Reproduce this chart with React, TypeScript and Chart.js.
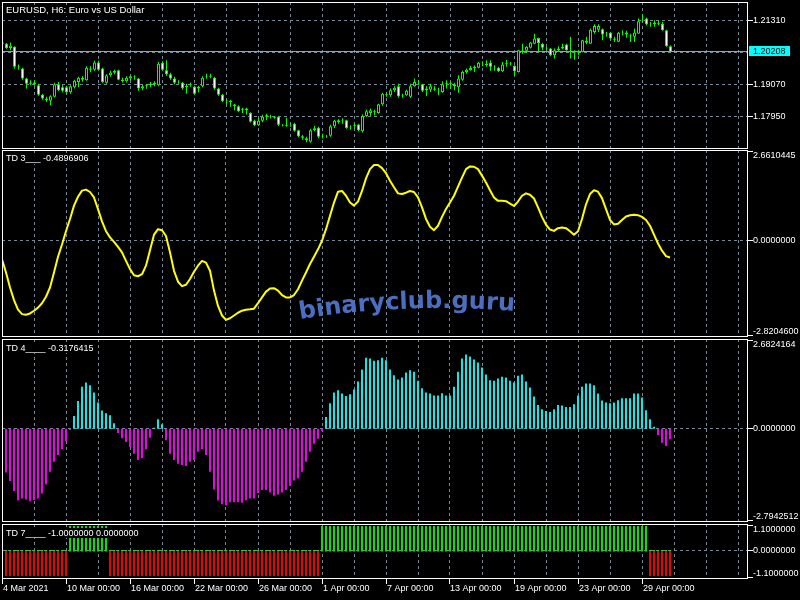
import React, { useEffect, useRef } from "react";
import { Chart, registerables } from "chart.js";
Chart.register(...registerables);

// ---------- DATA ----------
const OPEN = [1.2054,1.2050,1.2035,1.2039,1.1969,1.1963,1.1928,1.1910,1.1914,1.1904,
1.1871,1.1858,1.1850,1.1864,1.1908,1.1897,1.1897,1.1880,1.1897,1.1916,
1.1924,1.1922,1.1963,1.1959,1.1984,1.1963,1.1913,1.1939,1.1948,1.1957,
1.1924,1.1918,1.1928,1.1934,1.1928,1.1893,1.1901,1.1904,1.1908,1.1904,
1.1983,1.1957,1.1943,1.1928,1.1916,1.1913,1.1897,1.1904,1.1899,1.1893,
1.1901,1.1934,1.1934,1.1931,1.1893,1.1871,1.1850,1.1850,1.1837,1.1831,
1.1823,1.1823,1.1807,1.1780,1.1764,1.1780,1.1794,1.1794,1.1794,1.1794,
1.1763,1.1764,1.1762,1.1770,1.1747,1.1726,1.1719,1.1707,1.1747,1.1756,
1.1726,1.1726,1.1728,1.1761,1.1776,1.1780,1.1782,1.1759,1.1761,1.1767,
1.1743,1.1797,1.1807,1.1813,1.1807,1.1838,1.1873,1.1869,1.1887,1.1901,
1.1869,1.1869,1.1864,1.1901,1.1913,1.1908,1.1887,1.1889,1.1893,1.1889,
1.1881,1.1910,1.1910,1.1908,1.1897,1.1924,1.1951,1.1957,1.1965,1.1966,
1.1977,1.1974,1.1983,1.1971,1.1966,1.1953,1.1980,1.1980,1.1973,1.1951,
1.2025,1.2025,1.2036,1.2050,1.2070,1.2050,1.2036,1.2033,1.2009,1.2027,
1.2033,1.2047,1.2021,1.2019,1.2018,1.2021,1.2053,1.2050,1.2091,1.2099,
1.2100,1.2085,1.2088,1.2068,1.2057,1.2089,1.2089,1.2079,1.2074,1.2085,
1.2130,1.2138,1.2117,1.2118,1.2120,1.2120,1.2097,1.2041];

const HIGH = [1.2064,1.2052,1.2054,1.2041,1.1977,1.1966,1.1931,1.1922,1.1922,1.1910,
1.1875,1.1864,1.1869,1.1913,1.1916,1.1904,1.1903,1.1904,1.1924,1.1934,
1.1936,1.1971,1.1971,1.1990,1.1990,1.1966,1.1943,1.1955,1.1959,1.1959,
1.1931,1.1936,1.1939,1.1939,1.1930,1.1906,1.1908,1.1916,1.1918,1.1986,
1.1988,1.1992,1.1948,1.1934,1.1922,1.1916,1.1910,1.1914,1.1903,1.1903,
1.1936,1.1945,1.1945,1.1934,1.1896,1.1874,1.1855,1.1854,1.1840,1.1834,
1.1826,1.1826,1.1810,1.1784,1.1789,1.1801,1.1805,1.1801,1.1797,1.1796,
1.1768,1.1791,1.1770,1.1773,1.1749,1.1730,1.1724,1.1752,1.1762,1.1759,
1.1735,1.1730,1.1766,1.1784,1.1785,1.1789,1.1784,1.1764,1.1770,1.1770,
1.1802,1.1819,1.1823,1.1819,1.1840,1.1878,1.1878,1.1893,1.1901,1.1910,
1.1875,1.1889,1.1910,1.1928,1.1922,1.1910,1.1901,1.1910,1.1901,1.1896,
1.1918,1.1922,1.1916,1.1913,1.1939,1.1955,1.1963,1.1972,1.1974,1.1986,
1.1988,1.1992,1.1992,1.1974,1.1969,1.1986,1.1994,1.1986,1.1974,1.2029,
1.2050,1.2041,1.2056,1.2085,1.2071,1.2052,1.2039,1.2035,1.2033,1.2041,
1.2050,1.2050,1.2074,1.2027,1.2027,1.2064,1.2074,1.2103,1.2118,1.2118,
1.2103,1.2091,1.2091,1.2074,1.2091,1.2097,1.2095,1.2085,1.2103,1.2138,
1.2153,1.2141,1.2126,1.2132,1.2130,1.2126,1.2099,1.2044];

const LOW = [1.2048,1.2032,1.2027,1.1963,1.1959,1.1924,1.1893,1.1904,1.1903,1.1868,
1.1854,1.1846,1.1834,1.1862,1.1884,1.1880,1.1875,1.1875,1.1893,1.1897,
1.1917,1.1920,1.1950,1.1955,1.1955,1.1913,1.1910,1.1934,1.1943,1.1922,
1.1914,1.1914,1.1922,1.1924,1.1885,1.1887,1.1892,1.1897,1.1901,1.1901,
1.1955,1.1938,1.1924,1.1908,1.1910,1.1889,1.1875,1.1899,1.1871,1.1880,
1.1897,1.1927,1.1929,1.1889,1.1868,1.1845,1.1838,1.1829,1.1817,1.1810,
1.1807,1.1802,1.1774,1.1761,1.1762,1.1775,1.1782,1.1788,1.1787,1.1762,
1.1760,1.1759,1.1759,1.1742,1.1722,1.1714,1.1705,1.1703,1.1743,1.1719,
1.1718,1.1721,1.1724,1.1755,1.1770,1.1770,1.1752,1.1749,1.1753,1.1743,
1.1739,1.1794,1.1798,1.1799,1.1805,1.1833,1.1864,1.1864,1.1881,1.1861,
1.1861,1.1868,1.1860,1.1899,1.1904,1.1881,1.1866,1.1881,1.1885,1.1869,
1.1878,1.1893,1.1893,1.1887,1.1878,1.1920,1.1945,1.1955,1.1951,1.1964,
1.1971,1.1969,1.1955,1.1955,1.1951,1.1951,1.1969,1.1974,1.1939,1.1949,
1.2015,1.2018,1.2033,1.2048,1.2021,1.2027,1.2027,1.2006,1.1998,1.2021,
1.2030,1.2025,1.1998,1.1994,1.2009,1.2019,1.2048,1.2050,1.2085,1.2091,
1.2062,1.2074,1.2064,1.2056,1.2056,1.2079,1.2071,1.2056,1.2056,1.2085,
1.2126,1.2114,1.2109,1.2109,1.2114,1.2095,1.2039,1.2020];

const CLOSE = [1.2050,1.2035,1.2043,1.1969,1.1971,1.1928,1.1910,1.1914,1.1908,1.1871,
1.1858,1.1852,1.1866,1.1908,1.1887,1.1885,1.1880,1.1901,1.1920,1.1931,
1.1931,1.1966,1.1959,1.1984,1.1959,1.1916,1.1939,1.1949,1.1955,1.1924,
1.1918,1.1931,1.1936,1.1936,1.1893,1.1901,1.1904,1.1910,1.1913,1.1980,
1.1959,1.1943,1.1928,1.1913,1.1915,1.1895,1.1903,1.1908,1.1875,1.1899,
1.1931,1.1936,1.1938,1.1893,1.1871,1.1848,1.1852,1.1846,1.1831,1.1813,
1.1819,1.1817,1.1777,1.1764,1.1780,1.1794,1.1799,1.1796,1.1791,1.1766,
1.1762,1.1762,1.1761,1.1745,1.1726,1.1721,1.1712,1.1747,1.1754,1.1724,
1.1724,1.1727,1.1761,1.1780,1.1782,1.1782,1.1755,1.1757,1.1764,1.1747,
1.1797,1.1813,1.1817,1.1811,1.1838,1.1875,1.1869,1.1887,1.1896,1.1866,
1.1868,1.1885,1.1901,1.1916,1.1914,1.1885,1.1893,1.1901,1.1889,1.1888,
1.1908,1.1913,1.1913,1.1901,1.1928,1.1951,1.1959,1.1965,1.1969,1.1983,
1.1978,1.1980,1.1969,1.1969,1.1953,1.1977,1.1983,1.1981,1.1953,1.2027,
1.2027,1.2039,1.2054,1.2068,1.2052,1.2036,1.2034,1.2009,1.2027,1.2033,
1.2039,1.2027,1.2020,1.2021,1.2025,1.2062,1.2060,1.2099,1.2112,1.2112,
1.2082,1.2083,1.2068,1.2064,1.2088,1.2088,1.2082,1.2078,1.2089,1.2128,
1.2132,1.2118,1.2118,1.2124,1.2123,1.2097,1.2041,1.20208];

const TD3 = [-0.54,-0.93,-1.37,-1.74,-2.02,-2.15,-2.17,-2.13,-2.05,-1.96,
-1.83,-1.64,-1.37,-0.93,-0.47,-0.11,0.28,0.64,1.03,1.29,
1.47,1.50,1.43,1.27,0.93,0.57,0.28,0.10,-0.03,-0.18,
-0.34,-0.59,-0.83,-1.01,-1.04,-0.98,-0.73,-0.28,0.18,0.34,
0.31,0.14,-0.34,-0.88,-1.20,-1.33,-1.29,-1.12,-0.91,-0.73,
-0.59,-0.64,-0.88,-1.46,-1.91,-2.19,-2.32,-2.27,-2.19,-2.11,
-2.05,-2.02,-2.01,-1.99,-1.83,-1.66,-1.49,-1.40,-1.39,-1.46,
-1.59,-1.66,-1.66,-1.59,-1.42,-1.17,-0.93,-0.68,-0.47,-0.25,
0.00,0.34,0.73,1.12,1.44,1.46,1.32,1.12,1.03,1.15,
1.46,1.83,2.10,2.22,2.22,2.13,1.98,1.76,1.57,1.39,
1.37,1.41,1.46,1.43,1.27,0.98,0.64,0.41,0.31,0.44,
0.70,0.93,1.12,1.32,1.59,1.85,2.10,2.18,2.17,2.10,
1.91,1.71,1.48,1.27,1.17,1.17,1.16,1.09,1.02,1.15,
1.32,1.39,1.35,1.24,0.98,0.70,0.47,0.33,0.29,0.37,
0.39,0.37,0.28,0.18,0.28,0.64,1.07,1.37,1.48,1.44,
1.25,0.93,0.61,0.48,0.50,0.61,0.71,0.75,0.76,0.75,
0.70,0.61,0.44,0.18,-0.08,-0.29,-0.45,-0.4897];

const TD4 = [-1.05,
-1.31,-1.57,-1.87,-2.14,-2.09,-2.12,-2.17,-2.14,-2.09,-1.94,
-1.67,-1.29,-0.99,-0.79,-0.62,-0.38,-0.04,
0.38,0.83,1.25,1.38,1.30,1.08,0.78,0.54,0.46,0.40,0.16,
-0.13,-0.29,-0.40,-0.55,-0.75,-0.94,-0.89,-0.62,-0.27,
0.03,0.28,0.13,
-0.35,-0.75,-0.94,-1.05,-1.09,-1.12,-0.99,-0.94,-0.69,-0.62,
-0.79,-1.29,-1.82,-2.15,-2.26,-2.29,-2.20,-2.20,-2.20,-2.22,
-2.14,-2.09,-2.09,-1.93,-1.84,-1.84,-1.91,-2.01,-1.97,-1.91,
-1.84,-1.72,-1.55,-1.49,-1.29,-0.99,-0.69,-0.45,-0.30,-0.07,
0.35,0.76,1.08,1.15,1.05,0.98,1.03,1.17,1.41,1.77,
2.12,2.10,2.03,2.05,2.12,2.05,1.77,1.60,1.47,
1.53,1.68,1.75,1.70,1.43,1.21,1.08,1.05,0.99,0.99,
1.06,0.99,0.99,1.25,1.70,2.10,2.22,2.16,2.07,1.98,
1.83,1.62,1.45,1.43,1.50,1.55,1.53,1.43,1.38,1.58,
1.62,1.41,1.23,0.96,0.71,0.58,0.53,0.50,0.58,0.71,
0.69,0.65,0.65,0.73,0.99,1.25,1.35,1.35,1.30,1.05,
0.84,0.78,0.76,0.78,0.85,0.91,0.91,0.91,1.05,1.05,
0.93,0.55,0.28,0.06,-0.19,-0.42,-0.52,-0.3176];

const TD7 = [-1,-1,-1,-1,-1,-1,-1,-1,-1,-1,
-1,-1,-1,-1,-1,-1,-1,1,1,1,
1,1,1,1,1,1,1,-1,-1,-1,
-1,-1,-1,-1,-1,-1,-1,-1,-1,-1,
-1,-1,-1,-1,-1,-1,-1,-1,-1,-1,
-1,-1,-1,-1,-1,-1,-1,-1,-1,-1,
-1,-1,-1,-1,-1,-1,-1,-1,-1,-1,
-1,-1,-1,-1,-1,-1,-1,-1,-1,-1,
1,1,1,1,1,1,1,1,1,1,
1,1,1,1,1,1,1,1,1,1,
1,1,1,1,1,1,1,1,1,1,
1,1,1,1,1,1,1,1,1,1,
1,1,1,1,1,1,1,1,1,1,
1,1,1,1,1,1,1,1,1,1,
1,1,1,1,1,1,1,1,1,1,
1,1,1,1,1,1,1,1,1,1,
1,1,-1,-1,-1,-1,-1,-1];

const TIME_LABELS = ["4 Mar 2021","10 Mar 00:00","16 Mar 00:00","22 Mar 00:00","26 Mar 00:00",
  "1 Apr 00:00","7 Apr 00:00","13 Apr 00:00","19 Apr 00:00","23 Apr 00:00","29 Apr 00:00"];
const BARS_PER_LABEL = 16;
const BARS_PER_GRID = 8;

const PRICE_GRID = [1.2131, 1.2019, 1.1907, 1.1795];
const PRICE_TICKS = [1.2131, 1.1907, 1.1795];
const LAST_PRICE = 1.20208;
const TD3_RANGE = [-2.82046, 2.6610445];
const TD4_RANGE = [-2.7942512, 2.6824164];
const TD7_RANGE = [-1.1, 1.1];

const TITLE_MAIN = "EURUSD, H6: Euro vs US Dollar";
const TITLE_TD3 = "TD 3___ -0.4896906";
const TITLE_TD4 = "TD 4____ -0.3176415";
const TITLE_TD7 = "TD 7____ -1.0000000 0.0000000";
const WATERMARK = "binaryclub.guru";

// ---------- STYLE ----------
const FONT = "'Liberation Sans', Arial, sans-serif";
const AXIS_FONT = `9px ${FONT}`;
const GRID = "#778899";
const GREEN = "#00ff00";
const HIST_GREEN = "#00e800";
const RED = "#f00000";
const CYAN = "#00eeee";
const MAGENTA = "#ee00ee";

type YLab = { value?: number; edge?: string; text: string };
type Spec = {
  key: string; title: string; titleFont: string; titleY: number;
  hGrid: number[]; yLabels: YLab[]; priceLine?: boolean; timeAxis?: boolean; watermark?: boolean;
};

function drawWatermark(ctx: CanvasRenderingContext2D) {
  ctx.save();
  ctx.font = "bold 24px 'DejaVu Sans', sans-serif";
  ctx.fillStyle = "#4a6fc0";
  ctx.textAlign = "left";
  ctx.textBaseline = "alphabetic";
  const R = 900, cx = 440, cy = 1058;
  let theta = Math.asin((300 - cx) / R);
  for (const ch of WATERMARK) {
    const w = ctx.measureText(ch).width;
    ctx.save();
    ctx.translate(cx + R * Math.sin(theta), cy - R * Math.cos(theta));
    ctx.rotate(theta);
    ctx.fillText(ch, 0, 0);
    ctx.restore();
    theta += w / R;
  }
  ctx.restore();
}

function makePlugin(spec: Spec) {
  return {
    id: "mtPane" + spec.key,
    beforeDatasetsDraw(chart: any) {
      const ctx = chart.ctx;
      const { left, right, top, bottom } = chart.chartArea;
      const xs = chart.scales.x, ys = chart.scales.y;
      ctx.save();
      ctx.strokeStyle = GRID;
      ctx.lineWidth = 1;
      ctx.setLineDash([3, 3]);
      for (let v = BARS_PER_GRID; v <= 184; v += BARS_PER_GRID) {
        const px = Math.floor(xs.getPixelForValue(v)) + 0.5;
        if (px >= right - 2) continue;
        ctx.beginPath(); ctx.moveTo(px, top); ctx.lineTo(px, bottom); ctx.stroke();
      }
      for (const v of spec.hGrid) {
        const py = Math.floor(ys.getPixelForValue(v)) + 0.5;
        ctx.beginPath(); ctx.moveTo(left, py); ctx.lineTo(right, py); ctx.stroke();
      }
      ctx.setLineDash([]);
      if (spec.priceLine) {
        const py = Math.floor(ys.getPixelForValue(LAST_PRICE)) + 0.5;
        ctx.strokeStyle = "#3cc8cc";
        ctx.beginPath(); ctx.moveTo(left, py); ctx.lineTo(right, py); ctx.stroke();
      }
      ctx.restore();
    },
    afterDatasetsDraw(chart: any) {
      const ctx = chart.ctx;
      const { left, right, top, bottom } = chart.chartArea;
      const xs = chart.scales.x, ys = chart.scales.y;
      ctx.save();
      if (spec.watermark) drawWatermark(ctx);
      // title with background
      ctx.font = spec.titleFont;
      ctx.textAlign = "left";
      ctx.textBaseline = "middle";
      const tw = ctx.measureText(spec.title).width;
      ctx.fillStyle = "#000";
      ctx.fillRect(left + 3, top + 4, tw + 3, 10);
      ctx.fillStyle = "#fff";
      ctx.fillText(spec.title, left + 4, top + spec.titleY);
      // border
      ctx.strokeStyle = "#fff";
      ctx.lineWidth = 1;
      ctx.strokeRect(left + 0.5, top + 0.5, right - left - 1, bottom - top - 1);
      // right axis
      ctx.font = AXIS_FONT;
      for (const lab of spec.yLabels) {
        let row: number, ty: number;
        if (lab.edge === "top") { row = top + 1; ty = top + 6; }
        else if (lab.edge === "bottom") { row = bottom - 2; ty = bottom - 5; }
        else { row = Math.floor(ys.getPixelForValue(lab.value)); ty = row + 0.5; }
        ctx.fillStyle = "#fff";
        ctx.fillRect(right, row, 5, 1);
        ctx.fillText(lab.text, right + 5, ty);
      }
      if (spec.priceLine) {
        const row = Math.floor(ys.getPixelForValue(LAST_PRICE));
        ctx.fillStyle = "#00ffff";
        ctx.fillRect(right + 1, row - 5, 41, 10);
        ctx.fillStyle = "#000";
        ctx.fillText(LAST_PRICE.toFixed(5), right + 5, row + 0.5);
      }
      if (spec.timeAxis) {
        ctx.fillStyle = "#fff";
        TIME_LABELS.forEach((t, k) => {
          const px = Math.floor(xs.getPixelForValue(k * BARS_PER_LABEL));
          ctx.fillRect(px, bottom, 1, 5);
          ctx.fillText(t, px + 1, bottom + 9.5);
        });
      }
      ctx.restore();
    },
  };
}

function baseOptions(xMin: number, yMin: number, yMax: number, bottomPad: number) {
  return {
    responsive: false,
    animation: false,
    devicePixelRatio: 1,
    events: [],
    layout: { padding: { left: 2, right: 52, top: 0, bottom: bottomPad } },
    plugins: { legend: { display: false }, tooltip: { enabled: false }, title: { display: false } },
    scales: {
      x: { type: "linear", display: false, min: xMin, max: xMin + 186.5, offset: false, bounds: "data" },
      y: { type: "linear", display: false, min: yMin, max: yMax, bounds: "data" },
    },
  };
}

const PANES = [
  { top: 2, h: 147 },
  { top: 150, h: 187 },
  { top: 339, h: 183 },
  { top: 524, h: 76 },
];

export default function App() {
  const r0 = useRef<HTMLCanvasElement>(null);
  const r1 = useRef<HTMLCanvasElement>(null);
  const r2 = useRef<HTMLCanvasElement>(null);
  const r3 = useRef<HTMLCanvasElement>(null);
  const refs = [r0, r1, r2, r3];

  useEffect(() => {
    const charts: Chart[] = [];

    // Pane 1: candles
    const bodyColors = OPEN.map((o, i) => (CLOSE[i] < o ? "#ffffff" : "#000000"));
    charts.push(new Chart(r0.current as HTMLCanvasElement, {
      type: "bar",
      data: {
        datasets: [
          {
            data: OPEN.map((o, i) => ({ x: i, y: [o, CLOSE[i]] })),
            backgroundColor: bodyColors, borderColor: GREEN, borderWidth: 1, borderSkipped: false,
            barThickness: 3, grouped: false, inflateAmount: 0,
          },
          {
            data: HIGH.map((h, i) => ({ x: i, y: [LOW[i], h] })),
            backgroundColor: GREEN, borderWidth: 0, barThickness: 1, grouped: false, inflateAmount: 0,
          },
        ],
      },
      options: baseOptions(-0.125, 1.168125, 1.219575, 0) as any,
      plugins: [makePlugin({
        key: "1", title: TITLE_MAIN, titleFont: `9.5px ${FONT}`, titleY: 8.5,
        hGrid: PRICE_GRID, priceLine: true,
        yLabels: PRICE_TICKS.map((v) => ({ value: v, text: v.toFixed(5) })),
      }) as any],
    } as any));

    // Pane 2: TD 3 line
    charts.push(new Chart(r1.current as HTMLCanvasElement, {
      type: "line",
      data: {
        datasets: [{
          data: TD3.map((v, i) => ({ x: i, y: v })),
          borderColor: "#ffff00", borderWidth: 2, pointRadius: 0, tension: 0, fill: false,
          borderJoinStyle: "round",
        }],
      },
      options: baseOptions(0, TD3_RANGE[0], TD3_RANGE[1], 0) as any,
      plugins: [makePlugin({
        key: "2", title: TITLE_TD3, titleFont: `9px ${FONT}`, titleY: 9,
        hGrid: [0], watermark: true,
        yLabels: [
          { edge: "top", text: TD3_RANGE[1].toFixed(7) },
          { value: 0, text: (0).toFixed(7) },
          { edge: "bottom", text: TD3_RANGE[0].toFixed(7) },
        ],
      }) as any],
    } as any));

    // Pane 3: TD 4 histogram
    charts.push(new Chart(r2.current as HTMLCanvasElement, {
      type: "bar",
      data: {
        datasets: [{
          data: TD4.map((v, i) => ({ x: i, y: v })),
          backgroundColor: TD4.map((v) => (v >= 0 ? CYAN : MAGENTA)),
          borderWidth: 0, barThickness: 2, grouped: false, inflateAmount: 0,
        }],
      },
      options: baseOptions(0, TD4_RANGE[0], TD4_RANGE[1], 0) as any,
      plugins: [makePlugin({
        key: "3", title: TITLE_TD4, titleFont: `9px ${FONT}`, titleY: 9.3,
        hGrid: [0],
        yLabels: [
          { edge: "top", text: TD4_RANGE[1].toFixed(7) },
          { value: 0, text: (0).toFixed(7) },
          { edge: "bottom", text: TD4_RANGE[0].toFixed(7) },
        ],
      }) as any],
    } as any));

    // Pane 4: TD 7 histogram
    charts.push(new Chart(r3.current as HTMLCanvasElement, {
      type: "bar",
      data: {
        datasets: [
          {
            data: TD7.map((v, i) => ({ x: i, y: v > 0 ? [0, -0.04] : [0, 0.04] })),
            backgroundColor: TD7.map((v) => (v > 0 ? RED : HIST_GREEN)),
            borderWidth: 0, barThickness: 2, grouped: false, inflateAmount: 0,
          },
          {
            data: TD7.map((v, i) => ({ x: i, y: v })),
            backgroundColor: TD7.map((v) => (v > 0 ? HIST_GREEN : RED)),
            borderWidth: 0, barThickness: 2, grouped: false, inflateAmount: 0,
          },
        ],
      },
      options: baseOptions(0, -1.12, 1.08, 21) as any,
      plugins: [makePlugin({
        key: "4", title: TITLE_TD7, titleFont: `9px ${FONT}`, titleY: 9.3,
        hGrid: [0], timeAxis: true,
        yLabels: [
          { edge: "top", text: TD7_RANGE[1].toFixed(7) },
          { value: 0, text: (0).toFixed(7) },
          { edge: "bottom", text: TD7_RANGE[0].toFixed(7) },
        ],
      }) as any],
    } as any));

    return () => charts.forEach((c) => c.destroy());
  }, []);

  return (
    <div style={{ position: "fixed", left: 0, top: 0, width: 800, height: 600, background: "#000", overflow: "hidden" }}>
      {PANES.map((p, k) => (
        <canvas key={k} ref={refs[k]} width={800} height={p.h}
          style={{ position: "absolute", left: 0, top: p.top, width: 800, height: p.h, display: "block" }} />
      ))}
    </div>
  );
}
